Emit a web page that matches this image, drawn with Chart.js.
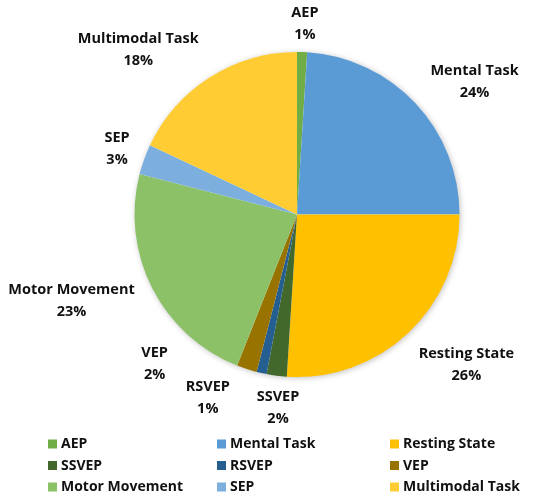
<!DOCTYPE html>
<html>
<head>
<meta charset="utf-8">
<script src="https://cdn.jsdelivr.net/npm/chart.js@4/dist/chart.umd.min.js"></script>
<style>
  html, body { margin: 0; padding: 0; background: #ffffff; }
  #wrap { width: 550px; height: 499px; }
</style>
</head>
<body>
<div id="wrap"><canvas id="c" width="550" height="499"></canvas></div>
<script>
// ---- data ----
const categories = ['AEP', 'Mental Task', 'Resting State', 'SSVEP', 'RSVEP', 'VEP', 'Motor Movement', 'SEP', 'Multimodal Task'];
const shares = [1, 24, 26, 2, 1, 2, 23, 3, 18];
const pctLabels = ['1%', '24%', '26%', '2%', '1%', '2%', '23%', '3%', '18%'];

// ---- styles / layout ----
const sliceColors = ['#70AD47', '#5B9BD5', '#FFC000', '#43682B', '#255E91', '#997300', '#8CC168', '#7CAFDD', '#FFCD33'];
const labelAngleShift = [0.6, 6.5, -5.2, -1.6, 13.4, 25.6, 6, 0.2, -11.6]; // degrees
const labelGap = [28, 59, 64, 32, 41, 44, 79, 29, 66]; // px beyond the pie edge
const LABEL_FONT = 'bold 14.5px "Open Sans", Lato, sans-serif';
const LEGEND_FONT = 'bold 14px "Open Sans", Lato, sans-serif';
const TEXT_COLOR = '#111111';

const shadowPlugin = {
  id: 'pieShadow',
  beforeDatasetsDraw(chart) {
    const arc = chart.getDatasetMeta(0).data[0];
    if (!arc) return;
    const ctx = chart.ctx;
    ctx.save();
    ctx.shadowColor = 'rgba(0,0,0,0.28)';
    ctx.shadowBlur = 6;
    ctx.shadowOffsetX = 1;
    ctx.shadowOffsetY = 1;
    ctx.fillStyle = '#ffffff';
    ctx.beginPath();
    ctx.arc(arc.x, arc.y, arc.outerRadius - 0.5, 0, Math.PI * 2);
    ctx.fill();
    ctx.restore();
  }
};

const labelPlugin = {
  id: 'outsideLabels',
  afterDatasetsDraw(chart) {
    const ctx = chart.ctx;
    const meta = chart.getDatasetMeta(0);
    ctx.save();
    ctx.font = LABEL_FONT;
    ctx.fillStyle = TEXT_COLOR;
    ctx.textAlign = 'center';
    ctx.textBaseline = 'middle';
    meta.data.forEach((arc, i) => {
      const mid = (arc.startAngle + arc.endAngle) / 2 + labelAngleShift[i] * Math.PI / 180;
      const d = arc.outerRadius + labelGap[i];
      const x = arc.x + Math.cos(mid) * d;
      const y = arc.y + Math.sin(mid) * d;
      ctx.fillText(chart.data.labels[i], x, y - 11);
      ctx.fillText(pctLabels[i], x, y + 11);
    });
    ctx.restore();
  }
};

const legendPlugin = {
  id: 'gridLegend',
  afterDraw(chart) {
    const ctx = chart.ctx;
    const colX = [48, 217, 390];
    const rowY = [444, 465.5, 487];
    const labels = chart.data.labels;
    const colors = chart.data.datasets[0].backgroundColor;
    ctx.save();
    ctx.font = LEGEND_FONT;
    ctx.textAlign = 'left';
    ctx.textBaseline = 'middle';
    labels.forEach((lab, i) => {
      const col = i % 3, row = Math.floor(i / 3);
      const x = colX[col], y = rowY[row];
      ctx.fillStyle = colors[i];
      ctx.fillRect(x, y - 4.5, 9, 9);
      ctx.fillStyle = TEXT_COLOR;
      ctx.fillText(lab, x + 13, y + 0.5);
    });
    ctx.restore();
  }
};

new Chart(document.getElementById('c'), {
  type: 'pie',
  data: {
    labels: categories,
    datasets: [{
      data: shares,
      backgroundColor: sliceColors,
      borderWidth: 0,
      hoverOffset: 0
    }]
  },
  options: {
    responsive: false,
    animation: false,
    layout: { padding: { top: 52, bottom: 122, left: 100, right: 56 } },
    plugins: {
      legend: { display: false },
      tooltip: { enabled: false }
    }
  },
  plugins: [shadowPlugin, labelPlugin, legendPlugin]
});
</script>
</body>
</html>
